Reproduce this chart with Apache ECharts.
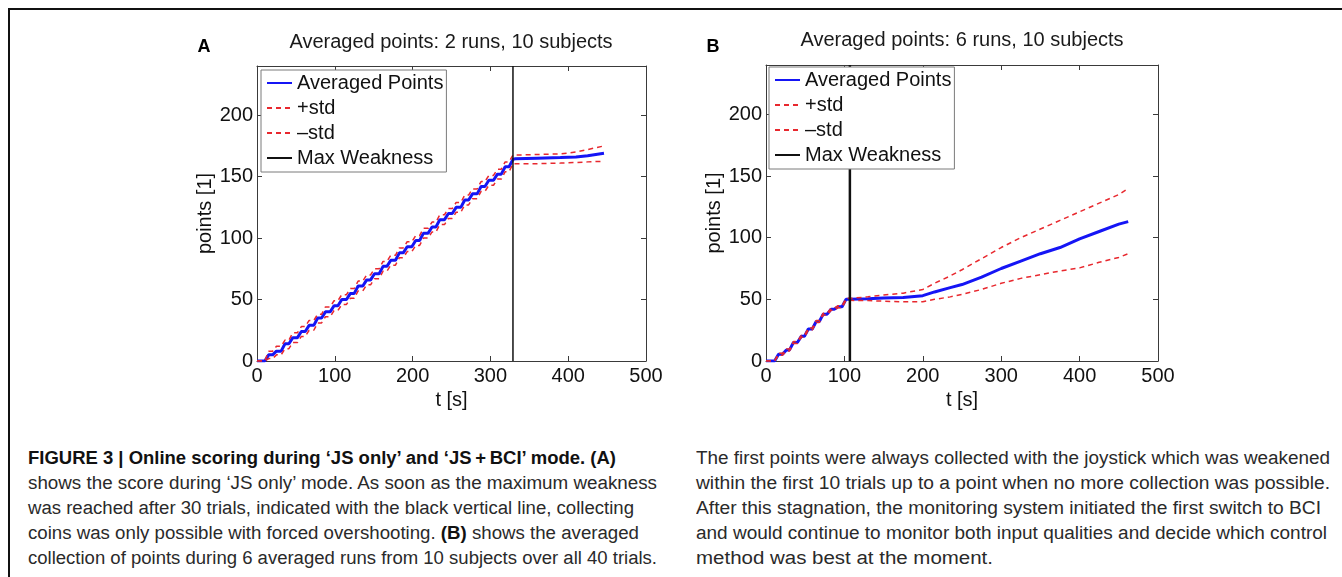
<!DOCTYPE html>
<html><head><meta charset="utf-8">
<script src="https://cdn.jsdelivr.net/npm/echarts@6/dist/echarts.min.js"></script>
<style>
html,body{margin:0;padding:0;background:#fff;}
#wrap{position:relative;width:1342px;height:577px;overflow:hidden;background:#fff;}
#frame{position:absolute;left:8px;top:8px;width:1400px;height:600px;border-top:2px solid #111;border-left:2px solid #111;}
#chart{position:absolute;left:0;top:0;width:1342px;height:420px;}
.cap{position:absolute;white-space:nowrap;font-family:"Liberation Sans Narrow","Liberation Sans",Arial,sans-serif;font-size:18px;color:#2a2a2a;line-height:20px;transform-origin:0 50%;}
.b{font-weight:bold;color:#111;}
</style></head>
<body>
<div id="wrap">
<div id="frame"></div>
<div id="chart"></div>
<div class="cap b" data-w="588" style="left:28px;top:448px;">FIGURE 3 | Online scoring during ‘JS only’ and ‘JS&#8201;+&#8201;BCI’ mode. (A)</div>
<div class="cap" data-w="629" style="left:28px;top:473px;">shows the score during ‘JS only’ mode. As soon as the maximum weakness</div>
<div class="cap" data-w="606" style="left:28px;top:498px;">was reached after 30 trials, indicated with the black vertical line, collecting</div>
<div class="cap" data-w="611" style="left:28px;top:523px;">coins was only possible with forced overshooting. <span class="b">(B)</span> shows the averaged</div>
<div class="cap" data-w="629" style="left:28px;top:548px;">collection of points during 6 averaged runs from 10 subjects over all 40 trials.</div>
<div class="cap" data-w="634" style="left:696px;top:448px;">The first points were always collected with the joystick which was weakened</div>
<div class="cap" data-w="634" style="left:696px;top:473px;">within the first 10 trials up to a point when no more collection was possible.</div>
<div class="cap" data-w="625" style="left:696px;top:498px;">After this stagnation, the monitoring system initiated the first switch to BCI</div>
<div class="cap" data-w="631" style="left:696px;top:523px;">and would continue to monitor both input qualities and decide which control</div>
<div class="cap" data-w="297" style="left:696px;top:548px;">method was best at the moment.</div>
</div>
<script>
// ---- Data: panel A (2 runs) ----
const trialStartA = [10, 20, 31, 41, 52, 62, 73, 83, 94, 104, 115, 125, 136, 146, 157, 167, 178, 188, 199, 209, 220, 230, 241, 251, 262, 272, 283, 293, 304, 314, 324];
const meanStepA  = [5, 8, 14, 19, 24, 29, 35, 40, 45, 50, 55, 61, 66, 71, 77, 82, 88, 93, 98, 104, 109, 115, 120, 125, 131, 136, 142, 147, 152, 158, 164];
const plusStepA  = [8, 12, 17, 23, 28, 33, 38, 44, 49, 54, 59, 65, 70, 75, 81, 86, 92, 97, 102, 108, 113, 119, 124, 129, 135, 140, 146, 151, 156, 162, 167.5];
const minusStepA = [2, 5, 10, 15, 20, 25, 31, 36, 41, 46, 51, 57, 62, 67, 73, 78, 84, 89, 94, 100, 105, 111, 116, 121, 127, 132, 138, 143, 148, 154, 160.5];
const tailTimeA  = [332, 360, 390, 410, 425, 446];
const meanTailA  = [164.5, 165, 165.5, 166, 167, 169];
const plusTailA  = [167.5, 168, 168.5, 170, 172, 175];
const minusTailA = [160.5, 160.5, 161, 161.5, 162, 162.5];
const maxWeakA = 329;

// ---- Data: panel B (6 runs) ----
const trialStartB = [11, 21, 30, 40, 49, 59, 68, 78, 87, 97];
const meanStepB  = [5.5, 9, 15, 20, 26, 32, 38, 42, 44, 50];
const plusStepB  = [6.3, 9.8, 15.8, 20.8, 26.8, 32.8, 38.8, 42.8, 44.8, 50.8];
const minusStepB = [4.7, 8.2, 14.2, 19.2, 25.2, 31.2, 37.2, 41.2, 43.2, 49.2];
const tailTimeB  = [107, 130, 150, 175, 200, 215, 235, 250, 275, 300, 325, 350, 375, 400, 425, 450, 462];
const meanTailB  = [50, 50.5, 51, 51.5, 53, 56, 59.5, 62, 68, 75, 81, 87, 92, 99, 105, 111, 113];
const plusTailB  = [50.8, 52, 53.5, 55, 58, 63, 69, 74, 83, 92, 100, 107, 114, 121, 128, 135, 140];
const minusTailB = [49.2, 49, 48.5, 48, 48, 50, 52, 54, 58, 63, 67, 70, 73, 75.5, 80, 84, 87];
const maxWeakB = 107;

// ---- Axis ticks ----
const xMin = 0, xMax = 500, xStep = 100;
const yMin = 0, yMax = 240, yStep = 50;
const legendNames = ['Averaged Points', '+std', '\u2013std', 'Max Weakness'];
const titles = ['Averaged points: 2 runs, 10 subjects', 'Averaged points: 6 runs, 10 subjects'];
const panelLabels = ['A', 'B'];

const RISE = 5;
function build(starts, steps, tailT, tailV) {
  const pts = [[0, 0]];
  let prev = 0;
  for (let i = 0; i < starts.length; i++) {
    pts.push([starts[i], prev]);
    pts.push([starts[i] + RISE, steps[i]]);
    prev = steps[i];
  }
  for (let i = 0; i < tailT.length; i++) pts.push([tailT[i], tailV[i]]);
  return pts;
}

const FF = '"Liberation Sans", Arial, Helvetica, sans-serif';
const AX = '#3a3a3a';
const grids = [
  {left: 257, top: 66, width: 389, height: 295},
  {left: 766, top: 65, width: 392, height: 296}
];

function xAxis(g, pos, show) {
  return {type: 'value', gridIndex: g, position: pos, min: xMin, max: xMax, interval: xStep,
    axisLine: {show: true, onZero: false, lineStyle: {color: AX, width: 1}},
    axisTick: {show: true, inside: true, length: 5, lineStyle: {color: AX}},
    axisLabel: {show: show, color: '#111', fontSize: 20, fontFamily: FF, margin: 5},
    splitLine: {show: false},
    name: show ? 't [s]' : '', nameLocation: 'middle', nameGap: 21,
    nameTextStyle: {color: '#111', fontSize: 20, fontFamily: FF}};
}
function yAxis(g, pos, show) {
  return {type: 'value', gridIndex: g, position: pos, min: yMin, max: yMax, interval: yStep,
    axisLine: {show: true, onZero: false, lineStyle: {color: AX, width: 1}},
    axisTick: {show: true, inside: true, length: 5, lineStyle: {color: AX}},
    axisLabel: {show: show, color: '#111', fontSize: 20, fontFamily: FF, margin: 4,
      formatter: v => (v % yStep === 0 ? String(v) : '')},
    splitLine: {show: false},
    name: show ? 'points [1]' : '', nameLocation: 'middle', nameGap: 40,
    nameTextStyle: {color: '#111', fontSize: 20, fontFamily: FF}};
}

const BLUE = '#1515f5', RED = '#e8282e', BLACK = '#111';
function panelSeries(g, mean, plus, minus, mw, mwWidth) {
  const xi = g * 2, yi = g * 2;
  const base = {type: 'line', xAxisIndex: xi, yAxisIndex: yi, symbol: 'none', showSymbol: false, animation: false, silent: true};
  return [
    Object.assign({}, base, {name: legendNames[0], data: mean, z: 2, lineStyle: {color: BLUE, width: 3}, itemStyle: {color: BLUE}}),
    Object.assign({}, base, {name: legendNames[1], data: plus, z: 3, lineStyle: {color: RED, width: 1.5, type: [5, 4]}, itemStyle: {color: RED}}),
    Object.assign({}, base, {name: legendNames[2], data: minus, z: 3, lineStyle: {color: RED, width: 1.5, type: [5, 4]}, itemStyle: {color: RED}}),
    Object.assign({}, base, {name: legendNames[3], data: [[mw, yMin], [mw, yMax]], z: 3, lineStyle: {color: BLACK, width: mwWidth}, itemStyle: {color: BLACK}})
  ];
}

function legend(left, top) {
  return {orient: 'vertical', left: left, top: top, z: 10, itemWidth: 25, itemHeight: 12, itemGap: 5,
    padding: [3, 3, 4, 5], backgroundColor: '#fff', borderColor: '#7a7a7a', borderWidth: 1, borderRadius: 0,
    selectedMode: false, data: legendNames,
    itemStyle: {color: 'rgba(0,0,0,0)', borderWidth: 0, opacity: 0},
    textStyle: {fontSize: 20, fontFamily: FF, color: '#111', lineHeight: 20}};
}

const chart = echarts.init(document.getElementById('chart'), null, {renderer: 'canvas'});
chart.setOption({
  backgroundColor: 'transparent',
  animation: false,
  grid: grids,
  xAxis: [xAxis(0, 'bottom', true), xAxis(0, 'top', false), xAxis(1, 'bottom', true), xAxis(1, 'top', false)],
  yAxis: [yAxis(0, 'left', true), yAxis(0, 'right', false), yAxis(1, 'left', true), yAxis(1, 'right', false)],
  legend: [legend(261, 70), legend(769, 67)],
  graphic: [
    {type: 'text', x: 451, y: 42, style: {text: titles[0], font: '20px ' + FF, fill: '#1a1a1a', textAlign: 'center', textVerticalAlign: 'middle', align: 'center', verticalAlign: 'middle'}},
    {type: 'text', x: 962, y: 40, style: {text: titles[1], font: '20px ' + FF, fill: '#1a1a1a', textAlign: 'center', textVerticalAlign: 'middle', align: 'center', verticalAlign: 'middle'}},
    {type: 'text', x: 204, y: 47, style: {text: panelLabels[0], font: 'bold 18px ' + FF, fill: '#000', textAlign: 'center', textVerticalAlign: 'middle', align: 'center', verticalAlign: 'middle'}},
    {type: 'text', x: 713, y: 47, style: {text: panelLabels[1], font: 'bold 18px ' + FF, fill: '#000', textAlign: 'center', textVerticalAlign: 'middle', align: 'center', verticalAlign: 'middle'}}
  ],
  series: [].concat(
    panelSeries(0, build(trialStartA, meanStepA, tailTimeA, meanTailA), build(trialStartA, plusStepA, tailTimeA, plusTailA), build(trialStartA, minusStepA, tailTimeA, minusTailA), maxWeakA, 1.5),
    panelSeries(1, build(trialStartB, meanStepB, tailTimeB, meanTailB), build(trialStartB, plusStepB, tailTimeB, plusTailB), build(trialStartB, minusStepB, tailTimeB, minusTailB), maxWeakB, 2.5)
  )
});

// fit caption lines to their measured widths in the reference
document.querySelectorAll('.cap').forEach(el => {
  const target = parseFloat(el.getAttribute('data-w'));
  const w = el.getBoundingClientRect().width;
  if (w > 0) el.style.transform = 'scaleX(' + (target / w) + ')';
});
</script>
</body></html>
